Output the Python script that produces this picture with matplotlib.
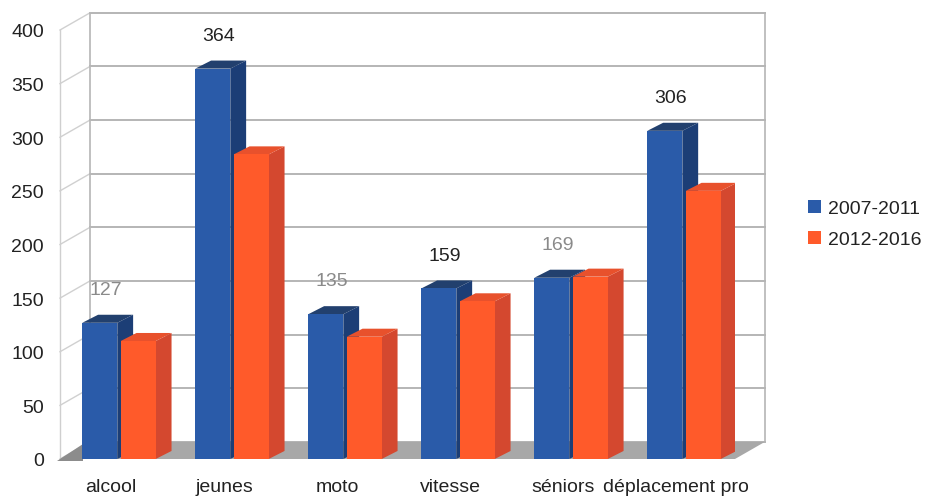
import matplotlib.pyplot as plt
from matplotlib.patches import Polygon, Patch

plt.rcParams['font.family'] = ['Liberation Sans', 'DejaVu Sans']

categories = ["alcool", "jeunes", "moto", "vitesse", "séniors", "déplacement pro"]
series_names = ["2007-2011", "2012-2016"]
values_0711 = [127, 364, 135, 159, 169, 306]
values_1216 = [110, 284, 114, 147, 170, 250]
label_colors = ["#8a8a8a", "#222222", "#8a8a8a", "#222222", "#8a8a8a", "#222222"]
y_ticks = [0, 50, 100, 150, 200, 250, 300, 350, 400]

# colours: front, side, top
blue = ("#2a5ba9", "#1c3e76", "#22406e")
orange = ("#ff5a2a", "#d4482f", "#e8512c")
FS = 14

fig = plt.figure(figsize=(9.26, 5.02), dpi=100)
ax = fig.add_axes([60 / 926, 42 / 502, 675 / 926, 429 / 502])
ax.set_facecolor("none")
for s in ax.spines.values():
    s.set_visible(False)

xl, xr = -0.407, 5.566
ax.set_xlim(xl, xr)
ax.set_ylim(0, 400)

# depth of the box and of the bars, in data units
DX, DY = 0.265, 16
dx, dy = 0.14, 7.5
width = 0.31
offsets = [-0.21, 0.13]

# floor
ax.add_patch(Polygon([(xl, 0), (xr, 0), (xr + DX, DY), (xl + DX, DY)],
                     closed=True, fc="#a8a8a8", ec="none", clip_on=False, zorder=1))
ax.add_patch(Polygon([(xl - 0.03, -2), (xl + 0.2, -2), (xl + 0.2, DY * 0.9)],
                     closed=True, fc="#8c8c8c", ec="none", clip_on=False, zorder=1))

# back wall and left wall with grid
grid_c = "#b5b5b5"
for v in y_ticks:
    ax.plot([xl + DX, xr + DX], [v + DY, v + DY], color=grid_c, lw=1.4,
            clip_on=False, zorder=0.5)
    ax.plot([xl, xl + DX], [v, v + DY], color="#d0d0d0", lw=1.0,
            clip_on=False, zorder=0.5)
ax.plot([xl + DX, xl + DX], [DY, 400 + DY], color=grid_c, lw=1.2, clip_on=False, zorder=0.5)
ax.plot([xr + DX, xr + DX], [DY, 400 + DY], color=grid_c, lw=1.2, clip_on=False, zorder=0.5)
ax.plot([xl, xl], [0, 400], color="#cfcfcf", lw=1.0, clip_on=False, zorder=0.5)

z = 2
for i in range(len(categories)):
    for off, vals, cols in ((offsets[0], values_0711, blue), (offsets[1], values_1216, orange)):
        h = vals[i]
        x0 = i + off
        x1 = x0 + width
        ax.add_patch(Polygon([(x1, 0), (x1 + dx, dy), (x1 + dx, h + dy), (x1, h)],
                             closed=True, fc=cols[1], ec="none", zorder=z))
        ax.add_patch(Polygon([(x0, h), (x1, h), (x1 + dx, h + dy), (x0 + dx, h + dy)],
                             closed=True, fc=cols[2], ec="none", zorder=z))
        ax.bar(x0, h, width=width, align="edge", color=cols[0], zorder=z + 0.5)
        z += 1
    ax.text(i + offsets[0] + width / 2 + 0.05, values_0711[i] + 31, str(values_0711[i]),
            ha="center", va="center", fontsize=FS, color=label_colors[i], zorder=50)

ax.set_yticks(y_ticks)
ax.set_yticklabels([str(v) for v in y_ticks], fontsize=FS, color="#222222")
# category labels sit a little right of the group centres
ax.set_xticks([i + 0.045 for i in range(len(categories))])
ax.set_xticklabels(categories, fontsize=FS, color="#222222")
ax.tick_params(axis="y", length=0, pad=11.5)
ax.tick_params(axis="x", length=0, pad=14)

handles = [Patch(fc=blue[0], ec="none"), Patch(fc=orange[0], ec="none")]
fig.legend(handles, series_names, loc="center left", bbox_to_anchor=(808 / 926, 0.552),
           frameon=False, fontsize=FS, handlelength=0.67, handleheight=0.67,
           handletextpad=0.35, labelspacing=0.7, borderpad=0, borderaxespad=0,
           labelcolor="#222222")

fig.savefig("out.png", dpi=100)
